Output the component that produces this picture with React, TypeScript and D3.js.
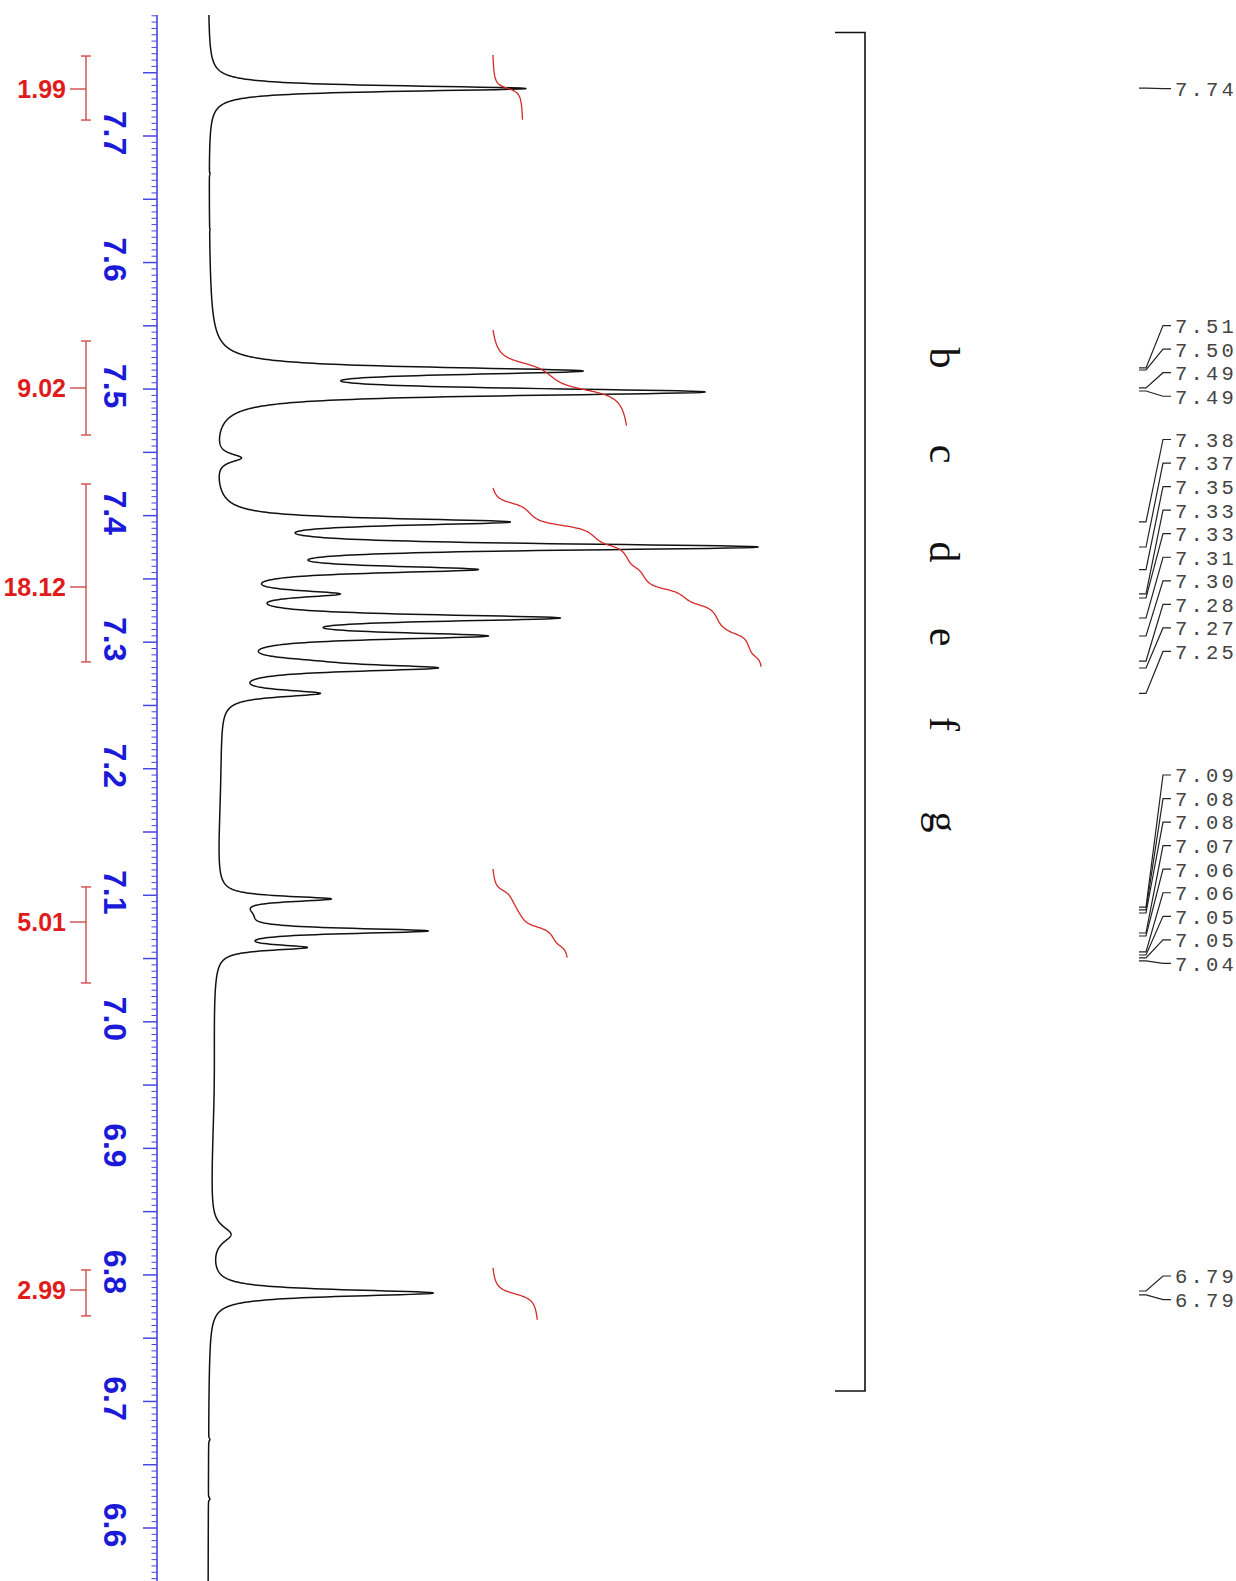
import React, { useMemo } from 'react';
import * as d3 from 'd3';

const W = 1236;
const H = 1581;

// Chemical-shift axis labels (ppm)
const axisLabels = [7.7, 7.6, 7.5, 7.4, 7.3, 7.2, 7.1, 7.0, 6.9, 6.8, 6.7, 6.6];

// Resolved lines: shift (ppm), observed height above baseline, half-width (ppm)
const lineShifts = [
  7.7375, 7.67, 7.626, 7.5143, 7.4977, 7.4456, 7.4258,
  7.395, 7.3752, 7.3574, 7.3381, 7.3191, 7.3049, 7.2851, 7.2796, 7.2595,
  7.0971, 7.0845, 7.0718, 7.0587, 6.7857, 6.67, 6.623,
];
const lineHeights = [
  319, 2.5, 2.5, 376, 498, 34, 6,
  303, 551, 271, 133, 353, 281, 113, 231, 113,
  124, 46, 221, 100, 226, 2.5, 2.5,
];
const lineWidths = [
  0.0027, 0.001, 0.001, 0.0036, 0.0036, 0.004, 0.003,
  0.0033, 0.0033, 0.0033, 0.0033, 0.0033, 0.0033, 0.0033, 0.0033, 0.0033,
  0.0026, 0.009, 0.0026, 0.0026, 0.0032, 0.001, 0.001,
];

// Broad background components under the trace
const broadShifts = [7.2, 6.95, 6.832];
const broadHeights = [11, 4, 20];
const broadWidths = [0.12, 0.08, 0.008];

// Integrals: value, integrated region (ppm), curve span (ppm), bracket span (ppm)
const integralValues = [1.99, 9.02, 18.12, 5.01, 2.99];
const regionFrom = [7.764, 7.5348, 7.4084, 7.1121, 6.8039];
const regionTo = [7.7126, 7.4756, 7.2504, 7.0505, 6.7676];
const curveFrom = [7.764, 7.5467, 7.4219, 7.1208, 6.8055];
const curveTo = [7.7126, 7.4708, 7.2804, 7.0505, 6.7644];
const bracketFrom = [7.7632, 7.538, 7.425, 7.1066, 6.8039];
const bracketTo = [7.7126, 7.4637, 7.2844, 7.0307, 6.7676];

// Peak-pick labels and the shifts their leaders point to
const peakLabels = [
  '7.74',
  '7.51', '7.50', '7.49', '7.49',
  '7.38', '7.37', '7.35', '7.33', '7.33', '7.31', '7.30', '7.28', '7.27', '7.25',
  '7.09', '7.08', '7.08', '7.07', '7.06', '7.06', '7.05', '7.05', '7.04',
  '6.79', '6.79',
];
const peakShifts = [
  7.7379,
  7.5167, 7.5151, 7.5009, 7.4985,
  7.395, 7.3752, 7.3574, 7.3381, 7.3349, 7.3191, 7.3049, 7.2851, 7.2796, 7.2595,
  7.0907, 7.0884, 7.086, 7.0702, 7.0678, 7.0552, 7.0528, 7.0505, 7.0481,
  6.7873, 6.7842,
];
const labelGroupSizes = [1, 4, 10, 9, 2];

// Assignment letters
const assignLetters = ['b', 'c', 'd', 'e', 'f', 'g'];

// ---- layout ----
const yScale = d3.scaleLinear().domain([7.7, 6.6]).range([136, 1528]);
const xScale = d3.scaleLinear().domain([0, 520]).range([207.5, 727.5]);
const integralScale = d3.scaleLinear().domain([0, 20]).range([493, 789]);

const ppmTop = yScale.invert(15);
const ppmBottom = yScale.invert(H + 5);

const lor = (d: number, g: number) => 1 / (1 + (d / g) * (d / g));

const broadAt = (p: number) =>
  broadShifts.reduce((s, c, i) => s + broadHeights[i] * lor(p - c, broadWidths[i]), 0);

// amplitudes chosen so the summed trace passes through each observed height
function solveAmplitudes(): number[] {
  let amp = lineHeights.slice();
  for (let it = 0; it < 80; it++) {
    amp = lineHeights.map((h, i) => {
      let other = broadAt(lineShifts[i]);
      lineShifts.forEach((c, j) => {
        if (j !== i) other += amp[j] * lor(lineShifts[i] - c, lineWidths[j]);
      });
      return Math.max(0, h - other);
    });
  }
  return amp;
}

const labelGroupStarts = [88.7, 325.6, 439.5, 775, 1276];
const labelStep = 23.55;
const integralLabelY = [89, 388, 587, 922, 1290];
const letterY = [358, 454, 552, 637, 724, 822];

export default function App() {
  const amps = useMemo(solveAmplitudes, []);

  const peakAt = (p: number) =>
    lineShifts.reduce((s, c, i) => s + amps[i] * lor(p - c, lineWidths[i]), 0);

  const trace = useMemo(() => {
    const pts: [number, number][] = [];
    const step = 0.00025;
    for (let p = ppmTop; p >= ppmBottom; p -= step) pts.push([p, peakAt(p) + broadAt(p)]);
    return d3
      .line<[number, number]>()
      .x((d) => xScale(d[1]))
      .y((d) => yScale(d[0]))(pts);
  }, [amps]);

  const integralPaths = useMemo(
    () =>
      integralValues.map((v, k) => {
        const a = regionFrom[k];
        const b = regionTo[k];
        const span = d3.scaleLinear().domain([a, b]).range([curveFrom[k], curveTo[k]]);
        const step = 0.0002;
        const pts: [number, number][] = [];
        let cum = 0;
        for (let p = a; p >= b; p -= step) {
          cum += peakAt(p) * step;
          pts.push([p, cum]);
        }
        const total = cum || 1;
        return d3
          .line<[number, number]>()
          .x((d) => integralScale((d[1] / total) * v))
          .y((d) => yScale(span(d[0])))
          .curve(d3.curveBasis)(pts);
      }),
    [amps]
  );

  // axis ticks every 0.005 ppm, long ticks every 0.05 ppm
  const minorIdx = d3.range(Math.ceil(ppmBottom / 0.005), Math.floor(ppmTop / 0.005) + 1);

  // peak label layout
  const labelY: number[] = [];
  let n = 0;
  labelGroupSizes.forEach((size, g) => {
    for (let i = 0; i < size; i++) labelY[n++] = labelGroupStarts[g] + i * labelStep;
  });

  const axisColor = '#4646e0';
  const labelBlue = '#1a1ad8';
  const red = '#e01b1b';
  const bracketRed = '#d24a4a';

  return (
    <svg
      width={W}
      height={H}
      style={{ position: 'absolute', left: 0, top: 0, background: '#fff' }}
      xmlns="http://www.w3.org/2000/svg"
    >
      <rect x={0} y={0} width={W} height={H} fill="#fff" />

      {/* ppm axis */}
      <line x1={157} x2={157} y1={15} y2={H} stroke={axisColor} strokeWidth={1.6} />
      {minorIdx.map((i) => {
        const p = i * 0.005;
        const major = i % 10 === 0;
        const y = yScale(p);
        return (
          <line
            key={i}
            x1={major ? 143 : 151.5}
            x2={157}
            y1={y}
            y2={y}
            stroke={axisColor}
            strokeWidth={major ? 1.5 : 1}
          />
        );
      })}
      {axisLabels.map((p) => (
        <text
          key={p}
          transform={`translate(104,${yScale(p) - 3}) rotate(90)`}
          textAnchor="middle"
          fontFamily="'Liberation Sans', Arial, sans-serif"
          fontWeight="bold"
          fontSize={32}
          fill={labelBlue}
        >
          {p.toFixed(1)}
        </text>
      ))}

      {/* integral brackets and values */}
      {integralValues.map((v, k) => {
        const y1 = yScale(bracketFrom[k]);
        const y2 = yScale(bracketTo[k]);
        const ym = integralLabelY[k];
        return (
          <g key={k}>
            <line x1={86} x2={86} y1={y1} y2={y2} stroke={bracketRed} strokeWidth={1.4} />
            <line x1={81} x2={91} y1={y1} y2={y1} stroke={bracketRed} strokeWidth={1.4} />
            <line x1={81} x2={91} y1={y2} y2={y2} stroke={bracketRed} strokeWidth={1.4} />
            <line x1={70} x2={86} y1={ym} y2={ym} stroke={bracketRed} strokeWidth={1.4} />
            <text
              x={66}
              y={ym}
              dy="0.36em"
              textAnchor="end"
              fontFamily="'Liberation Sans', Arial, sans-serif"
              fontWeight="bold"
              fontSize={25}
              fill={red}
            >
              {v.toFixed(2)}
            </text>
          </g>
        );
      })}

      {/* spectrum */}
      <path d={trace ?? ''} fill="none" stroke="#111" strokeWidth={1.5} strokeLinejoin="round" />

      {/* integral curves */}
      {integralPaths.map((d, k) => (
        <path key={k} d={d ?? ''} fill="none" stroke="#d42a2a" strokeWidth={1.3} />
      ))}

      {/* assignment bracket */}
      <path d="M835,32.5 H865 V1391 H835" fill="none" stroke="#111" strokeWidth={1.6} />
      {assignLetters.map((l, i) => (
        <text
          key={l}
          transform={`translate(930,${letterY[i]}) rotate(90)`}
          textAnchor="middle"
          fontFamily="'Liberation Serif', 'Times New Roman', serif"
          fontSize={42}
          fill="#111"
        >
          {l}
        </text>
      ))}

      {/* peak-pick labels with leaders */}
      {peakLabels.map((t, i) => {
        const ya = yScale(peakShifts[i]);
        const yl = labelY[i];
        return (
          <g key={i}>
            <path
              d={`M1139,${ya} H1146 L1163,${yl} H1171`}
              fill="none"
              stroke="#222"
              strokeWidth={1.2}
            />
            <text
              x={1175}
              y={yl}
              dy="0.36em"
              fontFamily="'Liberation Mono', 'Courier New', monospace"
              fontSize={20.5}
              letterSpacing={3.2}
              fill="#444"
            >
              {t}
            </text>
          </g>
        );
      })}
    </svg>
  );
}
